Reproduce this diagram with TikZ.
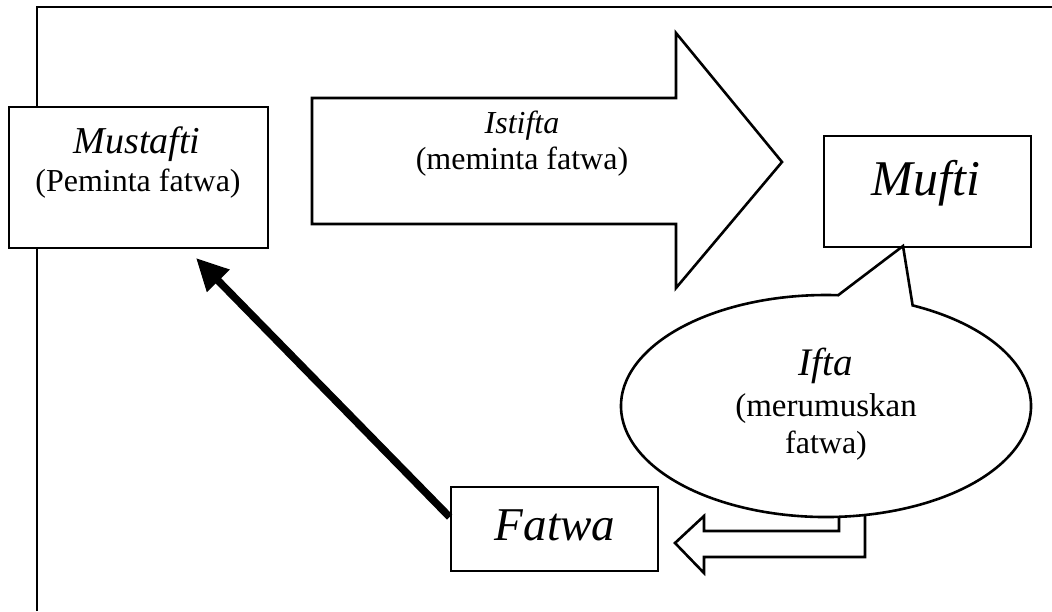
\documentclass[tikz,border=0pt]{standalone}
\usepackage{fontspec}
\setmainfont{Liberation Serif}
\usetikzlibrary{arrows.meta}
\tikzset{
  box/.style={draw, line width=2.8pt, fill=white, inner sep=0pt},
  shapeline/.style={draw, line width=2.6pt, fill=white, line join=miter},
  small/.style={inner sep=0pt, anchor=base, font=\fontsize{32}{38}\selectfont},
  frame/.style={line width=1.8pt},
  bigarrow/.style={line width=7.5pt, -{Triangle[length=32pt, width=30pt]}}
}
\begin{document}
\begin{tikzpicture}[x=1pt, y=-1pt]
\useasboundingbox (0,0) rectangle (1052,611);
% frame
\draw[frame] (37,611) -- (37,7) -- (1052,7);
% boxes
\node[box, minimum width=259pt, minimum height=141pt] (mustafti) at (138.5,177.5) {};
\node[small, font=\fontsize{38}{44}\selectfont\itshape] (mustaftiA) at (137,153) {Mustafti};
\node[small] (mustaftiB) at (138,191) {(Peminta fatwa)};
\node[box, minimum width=207pt, minimum height=111pt] (mufti) at (927.5,191.5) {};
\node[small, font=\fontsize{50}{58}\selectfont\itshape] (muftiT) at (926,195) {Mufti};
\node[box, minimum width=207pt, minimum height=84pt] (fatwa) at (554.5,529) {};
\node[small, font=\fontsize{47}{56}\selectfont\itshape] (fatwaT) at (555,540) {Fatwa};
% big block arrow
\draw[shapeline] (312,98) coordinate (ba1) -- (676,98) -- (676,33) -- (782,162) coordinate (batip)
  -- (676,288) -- (676,224) -- (312,224) -- cycle;
\node[small, font=\fontsize{32}{38}\selectfont\itshape] (istiftaA) at (522,133) {Istifta};
\node[small] (istiftaB) at (522,169) {(meminta fatwa)};
% U-turn arrow (behind the callout)
\draw[shapeline] (839,495) -- (839,531) -- (704,531) -- (704,516) -- (675,543) -- (704,573)
  -- (704,557) -- (865,557) -- (865,495) -- cycle;
% callout
\coordinate (ctip) at (903,246);
\path (826,406) ++(295:205 and 111) coordinate (pb);
\draw[shapeline] (ctip) -- (pb) arc[start angle=295, end angle=633.4, x radius=205, y radius=111] -- cycle;
\node[small, font=\fontsize{39}{46}\selectfont\itshape] (iftaA) at (826,375) {Ifta};
\node[small, font=\fontsize{33}{38}\selectfont] (iftaB) at (826,416) {(merumuskan};
\node[small] (iftaC) at (826,453) {fatwa)};
% thick arrow
\coordinate (tipM) at (196,258);
\draw[bigarrow] ([yshift=12pt]fatwa.west) -- (tipM);
\end{tikzpicture}
\end{document}
